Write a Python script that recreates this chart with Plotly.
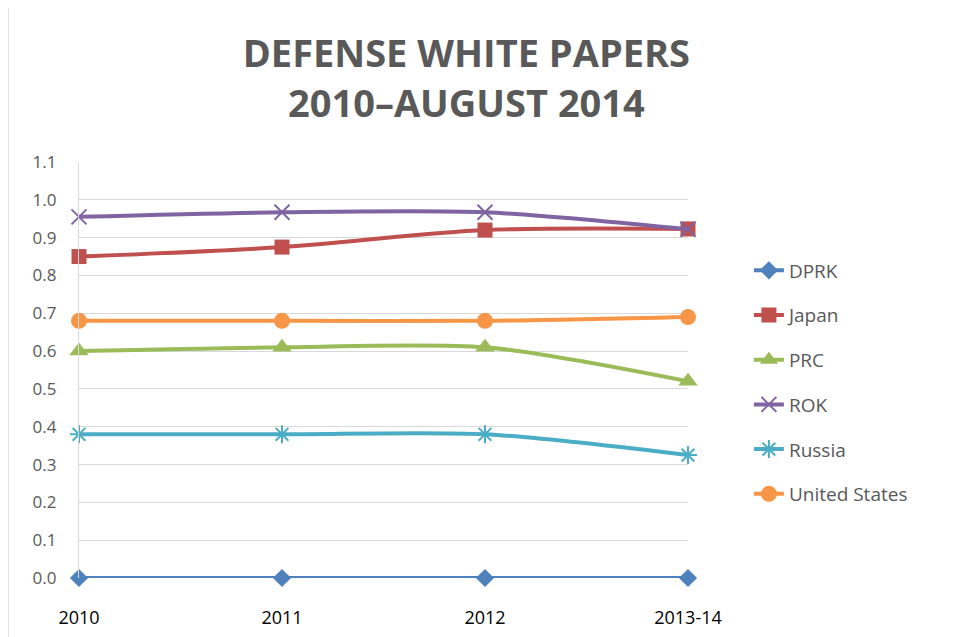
import plotly.graph_objects as go

categories = ["2010", "2011", "2012", "2013-14"]
dprk = [0.0, 0.0, 0.0, 0.0]
japan = [0.85, 0.875, 0.92, 0.923]
prc = [0.6, 0.61, 0.61, 0.52]
rok = [0.955, 0.967, 0.967, 0.922]
russia = [0.38, 0.38, 0.38, 0.325]
usa = [0.68, 0.68, 0.68, 0.69]
y_ticks = [0.0, 0.1, 0.2, 0.3, 0.4, 0.5, 0.6, 0.7, 0.8, 0.9, 1.0, 1.1]

series = [
    ("DPRK", dprk, "#4f81bd", dict(symbol="diamond", size=14)),
    ("Japan", japan, "#c0504d", dict(symbol="square", size=15)),
    ("PRC", prc, "#9bbb59", dict(symbol="triangle-up", size=17)),
    ("ROK", rok, "#8064a2", dict(symbol="x-thin-open", size=15, line=dict(width=2))),
    ("Russia", russia, "#4bacc6", dict(symbol="asterisk-open", size=15, line=dict(width=2))),
    ("United States", usa, "#f79646", dict(symbol="circle", size=16)),
]

fig = go.Figure()
for i, (name, vals, color, mk) in enumerate(series):
    mk = dict(mk)
    mk["color"] = color
    if "line" in mk:
        mk["line"]["color"] = color
    fig.add_trace(go.Scatter(
        x=categories, y=vals, name=name, mode="lines+markers",
        line=dict(color=color, width=4, shape="spline", smoothing=0.8),
        marker=mk, cliponaxis=False, legendgroup=f"g{i}",
    ))

fig.update_layout(
    width=959, height=637,
    margin=dict(l=71, r=279, t=154, b=67),
    paper_bgcolor="white", plot_bgcolor="white",
    title=dict(
        text="DEFENSE WHITE PAPERS<br>2010–AUGUST 2014",
        x=0.478, xanchor="center", y=0.907, yanchor="middle",
        font=dict(family="Open Sans", size=38, color="#595959", weight="bold"),
    ),
    xaxis=dict(
        type="category", range=[0, 3], showgrid=False, zeroline=False,
        showline=False, ticks="", ticklabelstandoff=27,
        tickfont=dict(family="Open Sans", size=18, color="#000000"),
    ),
    yaxis=dict(
        range=[0, 1.1], tickvals=y_ticks, ticktext=[f"{v:.1f}" for v in y_ticks],
        showgrid=True, gridcolor="#d9d9d9", gridwidth=1.3, zeroline=False,
        showline=True, linecolor="#d9d9d9", linewidth=1.3, ticks="",
        ticklabelstandoff=18,
        tickfont=dict(family="Open Sans", size=17, color="#595959"),
    ),
    legend=dict(
        x=1.1, xanchor="left", y=0.785, yanchor="top",
        font=dict(family="Open Sans", size=19, color="#595959"),
        tracegroupgap=17, bgcolor="rgba(0,0,0,0)",
    ),
    shapes=[dict(
        type="rect", xref="paper", yref="paper",
        x0=-0.1166, x1=1.7, y0=-0.3, y1=1.374,
        line=dict(color="#d9d9d9", width=1.5), fillcolor="rgba(0,0,0,0)", layer="below",
    )],
)

fig.write_html("out.html")
